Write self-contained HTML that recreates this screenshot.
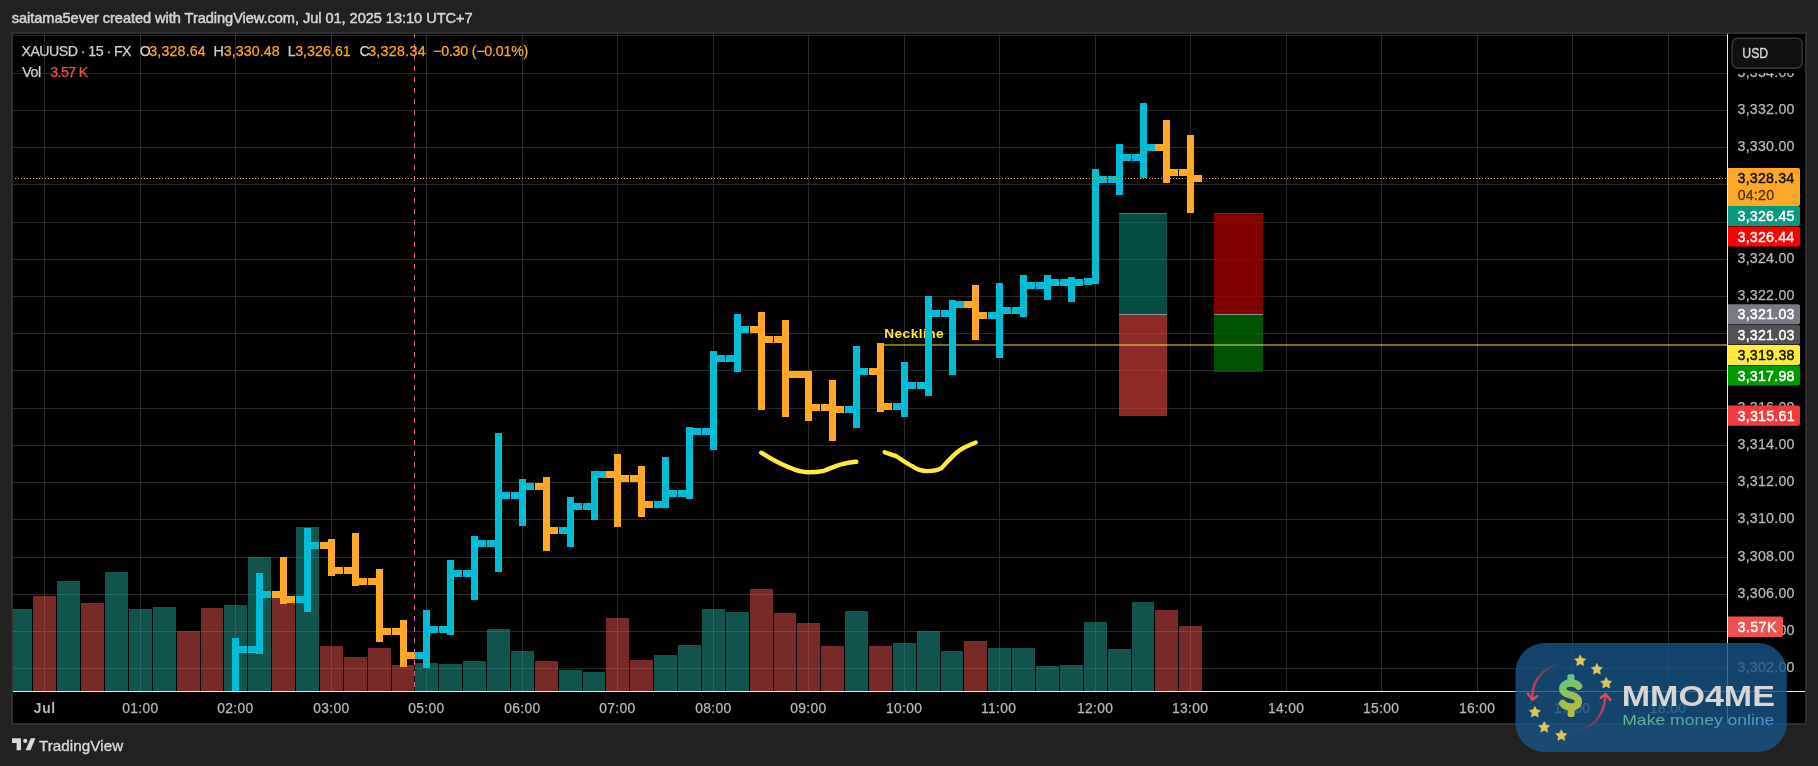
<!DOCTYPE html>
<html><head><meta charset="utf-8"><title>XAUUSD chart</title>
<style>
html,body{margin:0;padding:0;background:#212121;}
body{width:1818px;height:766px;overflow:hidden;position:relative;font-family:"Liberation Sans", "DejaVu Sans", sans-serif;}
svg{position:absolute;left:0;top:0;display:block;will-change:transform;}
svg text{font-family:"Liberation Sans", "DejaVu Sans", sans-serif;}
</style></head><body>
<svg width="1818" height="766" viewBox="0 0 1818 766">
<defs>
<clipPath id="pane"><rect x="13" y="34" width="1714" height="657"/></clipPath>
<linearGradient id="dollarU" gradientUnits="userSpaceOnUse" x1="1561" y1="678" x2="1580" y2="715"><stop offset="0" stop-color="#66d690"/><stop offset="0.5" stop-color="#a8cc48"/><stop offset="1" stop-color="#d2c82a"/></linearGradient><linearGradient id="dollar" x1="0" y1="0" x2="0.6" y2="1"><stop offset="0" stop-color="#5fd08a"/><stop offset="0.55" stop-color="#9cc94a"/><stop offset="1" stop-color="#c9c02a"/></linearGradient>
<linearGradient id="mmtxt" x1="0" y1="0" x2="1" y2="0"><stop offset="0" stop-color="#5fb888"/><stop offset="1" stop-color="#4a8fd0"/></linearGradient>
<linearGradient id="arcL" x1="0" y1="0" x2="0" y2="1"><stop offset="0" stop-color="#c8405a" stop-opacity="0"/><stop offset="0.5" stop-color="#c8405a" stop-opacity="0.8"/><stop offset="1" stop-color="#d8404e"/></linearGradient>
<linearGradient id="arcR" x1="0" y1="1" x2="0" y2="0"><stop offset="0" stop-color="#c8405a" stop-opacity="0"/><stop offset="0.5" stop-color="#c8405a" stop-opacity="0.8"/><stop offset="1" stop-color="#d8404e"/></linearGradient>
</defs>
<text x="11.79" y="23.00" font-size="14.60" letter-spacing="-0.051" fill="#d4d4d4" stroke="#d4d4d4" stroke-width="0.5">saitama5ever created with TradingView.com, Jul 01, 2025 13:10 UTC+7</text>
<rect x="11" y="32" width="1796" height="693" fill="#2f2f2f"/>
<rect x="13" y="34" width="1792" height="689" fill="#000"/>
<g fill="#292929" shape-rendering="crispEdges"><rect x="44" y="34" width="1" height="657"/><rect x="140" y="34" width="1" height="657"/><rect x="235" y="34" width="1" height="657"/><rect x="331" y="34" width="1" height="657"/><rect x="426" y="34" width="1" height="657"/><rect x="522" y="34" width="1" height="657"/><rect x="617" y="34" width="1" height="657"/><rect x="713" y="34" width="1" height="657"/><rect x="808" y="34" width="1" height="657"/><rect x="904" y="34" width="1" height="657"/><rect x="999" y="34" width="1" height="657"/><rect x="1095" y="34" width="1" height="657"/><rect x="1190" y="34" width="1" height="657"/><rect x="1286" y="34" width="1" height="657"/><rect x="1381" y="34" width="1" height="657"/><rect x="1477" y="34" width="1" height="657"/><rect x="1572" y="34" width="1" height="657"/><rect x="1668" y="34" width="1" height="657"/><rect x="13" y="35" width="1714" height="1"/><rect x="13" y="73" width="1714" height="1"/><rect x="13" y="110" width="1714" height="1"/><rect x="13" y="147" width="1714" height="1"/><rect x="13" y="184" width="1714" height="1"/><rect x="13" y="222" width="1714" height="1"/><rect x="13" y="259" width="1714" height="1"/><rect x="13" y="296" width="1714" height="1"/><rect x="13" y="333" width="1714" height="1"/><rect x="13" y="370" width="1714" height="1"/><rect x="13" y="408" width="1714" height="1"/><rect x="13" y="445" width="1714" height="1"/><rect x="13" y="482" width="1714" height="1"/><rect x="13" y="519" width="1714" height="1"/><rect x="13" y="557" width="1714" height="1"/><rect x="13" y="594" width="1714" height="1"/><rect x="13" y="631" width="1714" height="1"/><rect x="13" y="668" width="1714" height="1"/></g>
<g clip-path="url(#pane)" shape-rendering="crispEdges">
<rect x="10" y="609" width="22" height="82" fill="rgba(38,166,154,0.5)"/><rect x="33" y="596" width="23" height="95" fill="rgba(239,83,80,0.5)"/><rect x="57" y="581" width="23" height="110" fill="rgba(38,166,154,0.5)"/><rect x="81" y="603" width="23" height="88" fill="rgba(239,83,80,0.5)"/><rect x="105" y="572" width="23" height="119" fill="rgba(38,166,154,0.5)"/><rect x="129" y="609" width="23" height="82" fill="rgba(38,166,154,0.5)"/><rect x="153" y="607" width="23" height="84" fill="rgba(38,166,154,0.5)"/><rect x="177" y="631" width="23" height="60" fill="rgba(239,83,80,0.5)"/><rect x="201" y="608" width="22" height="83" fill="rgba(239,83,80,0.5)"/><rect x="224" y="605" width="23" height="86" fill="rgba(38,166,154,0.5)"/><rect x="248" y="557" width="23" height="134" fill="rgba(38,166,154,0.5)"/><rect x="272" y="598" width="23" height="93" fill="rgba(239,83,80,0.5)"/><rect x="296" y="527" width="23" height="164" fill="rgba(38,166,154,0.5)"/><rect x="320" y="646" width="23" height="45" fill="rgba(239,83,80,0.5)"/><rect x="344" y="657" width="23" height="34" fill="rgba(239,83,80,0.5)"/><rect x="368" y="648" width="23" height="43" fill="rgba(239,83,80,0.5)"/><rect x="392" y="665" width="22" height="26" fill="rgba(239,83,80,0.5)"/><rect x="415" y="663" width="23" height="28" fill="rgba(38,166,154,0.5)"/><rect x="439" y="664" width="23" height="27" fill="rgba(38,166,154,0.5)"/><rect x="463" y="661" width="23" height="30" fill="rgba(38,166,154,0.5)"/><rect x="487" y="629" width="23" height="62" fill="rgba(38,166,154,0.5)"/><rect x="511" y="651" width="23" height="40" fill="rgba(38,166,154,0.5)"/><rect x="535" y="661" width="23" height="30" fill="rgba(239,83,80,0.5)"/><rect x="559" y="670" width="23" height="21" fill="rgba(38,166,154,0.5)"/><rect x="583" y="672" width="22" height="19" fill="rgba(38,166,154,0.5)"/><rect x="606" y="618" width="23" height="73" fill="rgba(239,83,80,0.5)"/><rect x="630" y="660" width="23" height="31" fill="rgba(239,83,80,0.5)"/><rect x="654" y="655" width="23" height="36" fill="rgba(38,166,154,0.5)"/><rect x="678" y="645" width="23" height="46" fill="rgba(38,166,154,0.5)"/><rect x="702" y="609" width="23" height="82" fill="rgba(38,166,154,0.5)"/><rect x="726" y="612" width="23" height="79" fill="rgba(38,166,154,0.5)"/><rect x="750" y="589" width="23" height="102" fill="rgba(239,83,80,0.5)"/><rect x="774" y="613" width="22" height="78" fill="rgba(239,83,80,0.5)"/><rect x="797" y="623" width="23" height="68" fill="rgba(239,83,80,0.5)"/><rect x="821" y="646" width="23" height="45" fill="rgba(239,83,80,0.5)"/><rect x="845" y="611" width="23" height="80" fill="rgba(38,166,154,0.5)"/><rect x="869" y="646" width="23" height="45" fill="rgba(239,83,80,0.5)"/><rect x="893" y="643" width="23" height="48" fill="rgba(38,166,154,0.5)"/><rect x="917" y="631" width="23" height="60" fill="rgba(38,166,154,0.5)"/><rect x="941" y="651" width="22" height="40" fill="rgba(38,166,154,0.5)"/><rect x="964" y="641" width="23" height="50" fill="rgba(239,83,80,0.5)"/><rect x="988" y="648" width="23" height="43" fill="rgba(38,166,154,0.5)"/><rect x="1012" y="648" width="23" height="43" fill="rgba(38,166,154,0.5)"/><rect x="1036" y="666" width="23" height="25" fill="rgba(38,166,154,0.5)"/><rect x="1060" y="665" width="23" height="26" fill="rgba(38,166,154,0.5)"/><rect x="1084" y="622" width="23" height="69" fill="rgba(38,166,154,0.5)"/><rect x="1108" y="649" width="23" height="42" fill="rgba(38,166,154,0.5)"/><rect x="1132" y="602" width="22" height="89" fill="rgba(38,166,154,0.5)"/><rect x="1155" y="610" width="23" height="81" fill="rgba(239,83,80,0.5)"/><rect x="1179" y="626" width="23" height="65" fill="rgba(239,83,80,0.5)"/>
<rect x="1119" y="213" width="48" height="101" fill="rgba(8,126,112,0.6)"/>
<rect x="1119" y="213" width="48" height="1" fill="rgba(30,150,135,0.8)"/>
<rect x="1119" y="315" width="48" height="101" fill="rgba(200,60,55,0.7)"/>
<rect x="1119" y="314" width="48" height="1" fill="#8f8f8f"/>
<rect x="1214" y="213" width="49" height="101" fill="rgba(160,0,0,0.81)"/>
<rect x="1214" y="213" width="49" height="1" fill="#c80000"/>
<rect x="1214" y="315" width="49" height="57" fill="rgba(0,104,0,0.8)"/>
<rect x="1214" y="314" width="49" height="1" fill="#8f8f8f"/>
<rect x="881" y="344" width="846" height="2" fill="rgba(255,235,59,0.48)"/>
<text x="884.19" y="337.80" font-size="13.60" font-weight="bold" letter-spacing="0.505" fill="#ffeb3b">Neckline</text>
<rect x="232" y="638" width="7" height="62" fill="#00bcd4"/><rect x="224" y="696" width="8" height="7" fill="#00bcd4"/><rect x="239" y="646" width="8" height="7" fill="#00bcd4"/><rect x="256" y="573" width="7" height="81" fill="#00bcd4"/><rect x="248" y="646" width="8" height="7" fill="#00bcd4"/><rect x="263" y="591" width="8" height="7" fill="#00bcd4"/><rect x="280" y="557" width="7" height="47" fill="#ffa726"/><rect x="272" y="591" width="8" height="7" fill="#ffa726"/><rect x="287" y="596" width="8" height="7" fill="#ffa726"/><rect x="304" y="528" width="7" height="84" fill="#00bcd4"/><rect x="296" y="596" width="8" height="7" fill="#00bcd4"/><rect x="311" y="542" width="8" height="7" fill="#00bcd4"/><rect x="328" y="539" width="7" height="37" fill="#ffa726"/><rect x="320" y="542" width="8" height="7" fill="#ffa726"/><rect x="335" y="567" width="8" height="7" fill="#ffa726"/><rect x="352" y="533" width="7" height="53" fill="#ffa726"/><rect x="344" y="567" width="8" height="7" fill="#ffa726"/><rect x="359" y="578" width="8" height="7" fill="#ffa726"/><rect x="376" y="569" width="7" height="73" fill="#ffa726"/><rect x="368" y="578" width="8" height="7" fill="#ffa726"/><rect x="383" y="628" width="8" height="7" fill="#ffa726"/><rect x="400" y="620" width="7" height="47" fill="#ffa726"/><rect x="392" y="628" width="8" height="7" fill="#ffa726"/><rect x="407" y="652" width="8" height="7" fill="#ffa726"/><rect x="423" y="610" width="7" height="58" fill="#00bcd4"/><rect x="415" y="652" width="8" height="7" fill="#00bcd4"/><rect x="430" y="626" width="8" height="7" fill="#00bcd4"/><rect x="447" y="560" width="7" height="75" fill="#00bcd4"/><rect x="439" y="626" width="8" height="7" fill="#00bcd4"/><rect x="454" y="570" width="8" height="7" fill="#00bcd4"/><rect x="471" y="536" width="7" height="64" fill="#00bcd4"/><rect x="463" y="570" width="8" height="7" fill="#00bcd4"/><rect x="478" y="540" width="8" height="7" fill="#00bcd4"/><rect x="495" y="433" width="7" height="139" fill="#00bcd4"/><rect x="487" y="540" width="8" height="7" fill="#00bcd4"/><rect x="502" y="492" width="8" height="7" fill="#00bcd4"/><rect x="519" y="479" width="7" height="47" fill="#00bcd4"/><rect x="511" y="492" width="8" height="7" fill="#00bcd4"/><rect x="526" y="483" width="8" height="7" fill="#00bcd4"/><rect x="543" y="477" width="7" height="74" fill="#ffa726"/><rect x="535" y="483" width="8" height="7" fill="#ffa726"/><rect x="550" y="527" width="8" height="7" fill="#ffa726"/><rect x="567" y="497" width="7" height="50" fill="#00bcd4"/><rect x="559" y="527" width="8" height="7" fill="#00bcd4"/><rect x="574" y="503" width="8" height="7" fill="#00bcd4"/><rect x="591" y="471" width="7" height="49" fill="#00bcd4"/><rect x="583" y="503" width="8" height="7" fill="#00bcd4"/><rect x="598" y="471" width="8" height="7" fill="#00bcd4"/><rect x="614" y="454" width="7" height="73" fill="#ffa726"/><rect x="606" y="471" width="8" height="7" fill="#ffa726"/><rect x="621" y="475" width="8" height="7" fill="#ffa726"/><rect x="638" y="466" width="7" height="51" fill="#ffa726"/><rect x="630" y="475" width="8" height="7" fill="#ffa726"/><rect x="645" y="501" width="8" height="7" fill="#ffa726"/><rect x="662" y="457" width="7" height="51" fill="#00bcd4"/><rect x="654" y="501" width="8" height="7" fill="#00bcd4"/><rect x="669" y="490" width="8" height="7" fill="#00bcd4"/><rect x="686" y="427" width="7" height="72" fill="#00bcd4"/><rect x="678" y="490" width="8" height="7" fill="#00bcd4"/><rect x="693" y="428" width="8" height="7" fill="#00bcd4"/><rect x="710" y="351" width="7" height="99" fill="#00bcd4"/><rect x="702" y="428" width="8" height="7" fill="#00bcd4"/><rect x="717" y="355" width="8" height="7" fill="#00bcd4"/><rect x="734" y="314" width="7" height="58" fill="#00bcd4"/><rect x="726" y="355" width="8" height="7" fill="#00bcd4"/><rect x="741" y="326" width="8" height="7" fill="#00bcd4"/><rect x="758" y="312" width="7" height="98" fill="#ffa726"/><rect x="750" y="326" width="8" height="7" fill="#ffa726"/><rect x="765" y="336" width="8" height="7" fill="#ffa726"/><rect x="782" y="320" width="7" height="97" fill="#ffa726"/><rect x="774" y="336" width="8" height="7" fill="#ffa726"/><rect x="789" y="371" width="8" height="7" fill="#ffa726"/><rect x="805" y="371" width="7" height="50" fill="#ffa726"/><rect x="797" y="371" width="8" height="7" fill="#ffa726"/><rect x="812" y="404" width="8" height="7" fill="#ffa726"/><rect x="829" y="380" width="7" height="61" fill="#ffa726"/><rect x="821" y="404" width="8" height="7" fill="#ffa726"/><rect x="836" y="406" width="8" height="7" fill="#ffa726"/><rect x="853" y="346" width="7" height="82" fill="#00bcd4"/><rect x="845" y="406" width="8" height="7" fill="#00bcd4"/><rect x="860" y="368" width="8" height="7" fill="#00bcd4"/><rect x="877" y="343" width="7" height="69" fill="#ffa726"/><rect x="869" y="368" width="8" height="7" fill="#ffa726"/><rect x="884" y="403" width="8" height="7" fill="#ffa726"/><rect x="901" y="362" width="7" height="55" fill="#00bcd4"/><rect x="893" y="403" width="8" height="7" fill="#00bcd4"/><rect x="908" y="382" width="8" height="7" fill="#00bcd4"/><rect x="925" y="296" width="7" height="100" fill="#00bcd4"/><rect x="917" y="382" width="8" height="7" fill="#00bcd4"/><rect x="932" y="310" width="8" height="7" fill="#00bcd4"/><rect x="949" y="300" width="7" height="75" fill="#00bcd4"/><rect x="941" y="310" width="8" height="7" fill="#00bcd4"/><rect x="956" y="301" width="8" height="7" fill="#00bcd4"/><rect x="972" y="285" width="7" height="55" fill="#ffa726"/><rect x="964" y="301" width="8" height="7" fill="#ffa726"/><rect x="979" y="312" width="8" height="7" fill="#ffa726"/><rect x="996" y="283" width="7" height="75" fill="#00bcd4"/><rect x="988" y="312" width="8" height="7" fill="#00bcd4"/><rect x="1003" y="307" width="8" height="7" fill="#00bcd4"/><rect x="1020" y="275" width="7" height="42" fill="#00bcd4"/><rect x="1012" y="307" width="8" height="7" fill="#00bcd4"/><rect x="1027" y="282" width="8" height="7" fill="#00bcd4"/><rect x="1044" y="275" width="7" height="25" fill="#00bcd4"/><rect x="1036" y="282" width="8" height="7" fill="#00bcd4"/><rect x="1051" y="279" width="8" height="7" fill="#00bcd4"/><rect x="1068" y="277" width="7" height="25" fill="#00bcd4"/><rect x="1060" y="279" width="8" height="7" fill="#00bcd4"/><rect x="1075" y="279" width="8" height="7" fill="#00bcd4"/><rect x="1092" y="169" width="7" height="115" fill="#00bcd4"/><rect x="1084" y="278" width="8" height="7" fill="#00bcd4"/><rect x="1099" y="176" width="8" height="7" fill="#00bcd4"/><rect x="1116" y="144" width="7" height="51" fill="#00bcd4"/><rect x="1108" y="176" width="8" height="7" fill="#00bcd4"/><rect x="1123" y="154" width="8" height="7" fill="#00bcd4"/><rect x="1140" y="103" width="7" height="75" fill="#00bcd4"/><rect x="1132" y="154" width="8" height="7" fill="#00bcd4"/><rect x="1147" y="144" width="8" height="7" fill="#00bcd4"/><rect x="1163" y="120" width="7" height="63" fill="#ffa726"/><rect x="1155" y="144" width="8" height="7" fill="#ffa726"/><rect x="1170" y="169" width="8" height="7" fill="#ffa726"/><rect x="1187" y="135" width="7" height="78" fill="#ffa726"/><rect x="1179" y="169" width="8" height="7" fill="#ffa726"/><rect x="1194" y="175" width="8" height="7" fill="#ffa726"/>
<line x1="414.5" y1="34" x2="414.5" y2="691" stroke="#e0609a" stroke-width="1" stroke-dasharray="5 6" stroke-dashoffset="1" shape-rendering="crispEdges"/>
</g>
<line x1="13" y1="178.5" x2="1727" y2="178.5" stroke="#ffa726" stroke-width="1" stroke-dasharray="1 2" stroke-dashoffset="-2" shape-rendering="crispEdges"/>
<path d="M761.2,452.7 C768,457 780,464 789.6,467.6 C796,470.6 802,472.3 808.1,472.3 C815,472.3 820,471.6 823.9,470.8 C830,468.6 836,465.6 842.4,464.1 C848,462.6 852,462.2 856.3,461.7" fill="none" stroke="#ffeb3b" stroke-width="4.4" stroke-linecap="round" stroke-linejoin="round"/>
<path d="M884.7,452.2 C888,453.6 892,454.6 895.2,455.7 C901,459 906,463 912.4,466.3 C918,470.3 922,471.1 926.9,471.1 C933,471.1 938,470.2 941.4,468.2 C948,461 953,455 958.6,451.1 C964,447 970,445 975.7,442.5" fill="none" stroke="#ffeb3b" stroke-width="4.4" stroke-linecap="round" stroke-linejoin="round"/>
<text x="21.48" y="56.00" font-size="14.20" letter-spacing="-0.543" fill="#cfcfcf" stroke="#cfcfcf" stroke-width="0.25">XAUUSD · 15 · FX</text>
<text x="139.83" y="56.00" font-size="14.20" letter-spacing="0.000" fill="#cfcfcf" stroke="#cfcfcf" stroke-width="0.25">O</text>
<text x="149.26" y="56.00" font-size="14.20" letter-spacing="0.183" fill="#ffa726" stroke="#ffa726" stroke-width="0.25">3,328.64</text>
<text x="213.54" y="56.00" font-size="14.20" letter-spacing="0.000" fill="#cfcfcf" stroke="#cfcfcf" stroke-width="0.25">H</text>
<text x="223.86" y="56.00" font-size="14.20" letter-spacing="0.069" fill="#ffa726" stroke="#ffa726" stroke-width="0.25">3,330.48</text>
<text x="287.74" y="56.00" font-size="14.20" letter-spacing="0.000" fill="#cfcfcf" stroke="#cfcfcf" stroke-width="0.25">L</text>
<text x="295.16" y="56.00" font-size="14.20" letter-spacing="0.051" fill="#ffa726" stroke="#ffa726" stroke-width="0.25">3,326.61</text>
<text x="359.38" y="56.00" font-size="14.20" letter-spacing="0.000" fill="#cfcfcf" stroke="#cfcfcf" stroke-width="0.25">C</text>
<text x="368.16" y="56.00" font-size="14.20" letter-spacing="0.312" fill="#ffa726" stroke="#ffa726" stroke-width="0.25">3,328.34</text>
<text x="433.10" y="56.00" font-size="14.20" letter-spacing="-0.201" fill="#ffa726" stroke="#ffa726" stroke-width="0.25">−0.30 (−0.01%)</text>
<text x="22.34" y="76.60" font-size="14.20" letter-spacing="-0.506" fill="#cfcfcf" stroke="#cfcfcf" stroke-width="0.25">Vol</text>
<text x="50.26" y="76.60" font-size="14.20" letter-spacing="-0.591" fill="#f0504c" stroke="#f0504c" stroke-width="0.25">3.57 K</text>
<rect x="1727" y="34" width="1" height="689" fill="#e8e8e8"/>
<rect x="13" y="691" width="1792" height="1" fill="#e8e8e8"/>
<text x="1737.56" y="77.00" font-size="14.20" letter-spacing="0.232" fill="#b8b8b8" stroke="#b8b8b8" stroke-width="0.25">3,334.00</text><text x="1737.56" y="114.00" font-size="14.20" letter-spacing="0.232" fill="#b8b8b8" stroke="#b8b8b8" stroke-width="0.25">3,332.00</text><text x="1737.56" y="151.00" font-size="14.20" letter-spacing="0.232" fill="#b8b8b8" stroke="#b8b8b8" stroke-width="0.25">3,330.00</text><text x="1737.56" y="263.00" font-size="14.20" letter-spacing="0.232" fill="#b8b8b8" stroke="#b8b8b8" stroke-width="0.25">3,324.00</text><text x="1737.56" y="300.00" font-size="14.20" letter-spacing="0.232" fill="#b8b8b8" stroke="#b8b8b8" stroke-width="0.25">3,322.00</text><text x="1737.56" y="412.00" font-size="14.20" letter-spacing="0.232" fill="#b8b8b8" stroke="#b8b8b8" stroke-width="0.25">3,316.00</text><text x="1737.56" y="449.00" font-size="14.20" letter-spacing="0.232" fill="#b8b8b8" stroke="#b8b8b8" stroke-width="0.25">3,314.00</text><text x="1737.56" y="486.00" font-size="14.20" letter-spacing="0.232" fill="#b8b8b8" stroke="#b8b8b8" stroke-width="0.25">3,312.00</text><text x="1737.56" y="523.00" font-size="14.20" letter-spacing="0.232" fill="#b8b8b8" stroke="#b8b8b8" stroke-width="0.25">3,310.00</text><text x="1737.56" y="561.00" font-size="14.20" letter-spacing="0.232" fill="#b8b8b8" stroke="#b8b8b8" stroke-width="0.25">3,308.00</text><text x="1737.56" y="598.00" font-size="14.20" letter-spacing="0.232" fill="#b8b8b8" stroke="#b8b8b8" stroke-width="0.25">3,306.00</text><text x="1737.56" y="635.00" font-size="14.20" letter-spacing="0.232" fill="#b8b8b8" stroke="#b8b8b8" stroke-width="0.25">3,304.00</text><text x="1737.56" y="672.00" font-size="14.20" letter-spacing="0.232" fill="#b8b8b8" stroke="#b8b8b8" stroke-width="0.25">3,302.00</text>
<rect x="1728" y="34" width="77" height="39" fill="#000"/>
<rect x="1732.2" y="38.2" width="70" height="30" rx="5.5" fill="#101010" stroke="#363636" stroke-width="1.5"/>
<text transform="translate(1742.36,58.00) scale(0.8615,1)" x="0" y="0" font-size="14.20" fill="#d8d8d8" stroke="#d8d8d8" stroke-width="0.35">USD</text>
<path d="M1728,168.0 H1798.0 a2,2 0 0 1 2,2 V204.0 a2,2 0 0 1 -2,2 H1728 Z" fill="#ffa726"/>
<text x="1737.56" y="183.20" font-size="14.20" letter-spacing="0.212" fill="#131313" stroke="#131313" stroke-width="0.45">3,328.34</text>
<text x="1737.65" y="199.60" font-size="14.20" letter-spacing="0.219" fill="#4d3711" stroke="#4d3711" stroke-width="0.3">04:20</text>
<path d="M1728,206.0 H1798.0 a2,2 0 0 1 2,2 V224.0 a2,2 0 0 1 -2,2 H1728 Z" fill="#089981"/>
<text x="1737.56" y="221.10" font-size="14.20" letter-spacing="0.238" fill="#ffffff" stroke="#ffffff" stroke-width="0.45">3,326.45</text>
<path d="M1728,226.4 H1798.0 a2,2 0 0 1 2,2 V244.5 a2,2 0 0 1 -2,2 H1728 Z" fill="#ff0000"/>
<text x="1737.56" y="241.55" font-size="14.20" letter-spacing="0.212" fill="#ffffff" stroke="#ffffff" stroke-width="0.45">3,326.44</text>
<path d="M1728,304.3 H1798.0 a2,2 0 0 1 2,2 V322.3 a2,2 0 0 1 -2,2 H1728 Z" fill="#787b86"/>
<text x="1737.56" y="319.40" font-size="14.20" letter-spacing="0.241" fill="#ffffff" stroke="#ffffff" stroke-width="0.45">3,321.03</text>
<path d="M1728,324.8 H1798.0 a2,2 0 0 1 2,2 V342.6 a2,2 0 0 1 -2,2 H1728 Z" fill="#525252"/>
<text x="1737.56" y="339.80" font-size="14.20" letter-spacing="0.241" fill="#ffffff" stroke="#ffffff" stroke-width="0.45">3,321.03</text>
<path d="M1728,344.9 H1798.0 a2,2 0 0 1 2,2 V363.0 a2,2 0 0 1 -2,2 H1728 Z" fill="#ffeb3b"/>
<text x="1737.56" y="360.05" font-size="14.20" letter-spacing="0.240" fill="#131313" stroke="#131313" stroke-width="0.45">3,319.38</text>
<path d="M1728,365.4 H1798.0 a2,2 0 0 1 2,2 V383.5 a2,2 0 0 1 -2,2 H1728 Z" fill="#009900"/>
<text x="1737.56" y="380.55" font-size="14.20" letter-spacing="0.240" fill="#ffffff" stroke="#ffffff" stroke-width="0.45">3,317.98</text>
<path d="M1728,405.6 H1798.0 a2,2 0 0 1 2,2 V423.7 a2,2 0 0 1 -2,2 H1728 Z" fill="#f23c3c"/>
<text x="1737.56" y="420.75" font-size="14.20" letter-spacing="0.251" fill="#ffffff" stroke="#ffffff" stroke-width="0.45">3,315.61</text>
<path d="M1728,616.4 H1781.0 a2,2 0 0 1 2,2 V635.1 a2,2 0 0 1 -2,2 H1728 Z" fill="#f05050"/>
<text x="1737.56" y="631.85" font-size="14.20" letter-spacing="0.448" fill="#ffffff" stroke="#ffffff" stroke-width="0.45">3.57K</text>
<text x="33.79" y="713.00" font-size="13.80" font-weight="bold" letter-spacing="0.724" fill="#b8b8b8">Jul</text><text x="122.23" y="713.00" font-size="13.80" letter-spacing="0.350" fill="#b8b8b8" stroke="#b8b8b8" stroke-width="0.25">01:00</text><text x="217.23" y="713.00" font-size="13.80" letter-spacing="0.350" fill="#b8b8b8" stroke="#b8b8b8" stroke-width="0.25">02:00</text><text x="313.23" y="713.00" font-size="13.80" letter-spacing="0.350" fill="#b8b8b8" stroke="#b8b8b8" stroke-width="0.25">03:00</text><text x="408.23" y="713.00" font-size="13.80" letter-spacing="0.350" fill="#b8b8b8" stroke="#b8b8b8" stroke-width="0.25">05:00</text><text x="504.23" y="713.00" font-size="13.80" letter-spacing="0.350" fill="#b8b8b8" stroke="#b8b8b8" stroke-width="0.25">06:00</text><text x="599.23" y="713.00" font-size="13.80" letter-spacing="0.350" fill="#b8b8b8" stroke="#b8b8b8" stroke-width="0.25">07:00</text><text x="695.23" y="713.00" font-size="13.80" letter-spacing="0.350" fill="#b8b8b8" stroke="#b8b8b8" stroke-width="0.25">08:00</text><text x="790.23" y="713.00" font-size="13.80" letter-spacing="0.350" fill="#b8b8b8" stroke="#b8b8b8" stroke-width="0.25">09:00</text><text x="885.98" y="713.00" font-size="13.80" letter-spacing="0.350" fill="#b8b8b8" stroke="#b8b8b8" stroke-width="0.25">10:00</text><text x="980.98" y="713.00" font-size="13.80" letter-spacing="0.350" fill="#b8b8b8" stroke="#b8b8b8" stroke-width="0.25">11:00</text><text x="1076.98" y="713.00" font-size="13.80" letter-spacing="0.350" fill="#b8b8b8" stroke="#b8b8b8" stroke-width="0.25">12:00</text><text x="1171.98" y="713.00" font-size="13.80" letter-spacing="0.350" fill="#b8b8b8" stroke="#b8b8b8" stroke-width="0.25">13:00</text><text x="1267.98" y="713.00" font-size="13.80" letter-spacing="0.350" fill="#b8b8b8" stroke="#b8b8b8" stroke-width="0.25">14:00</text><text x="1362.98" y="713.00" font-size="13.80" letter-spacing="0.350" fill="#b8b8b8" stroke="#b8b8b8" stroke-width="0.25">15:00</text><text x="1458.98" y="713.00" font-size="13.80" letter-spacing="0.350" fill="#b8b8b8" stroke="#b8b8b8" stroke-width="0.25">16:00</text><text x="1553.98" y="713.00" font-size="13.80" letter-spacing="0.350" fill="#b8b8b8" stroke="#b8b8b8" stroke-width="0.25">17:00</text><text x="1649.98" y="713.00" font-size="13.80" letter-spacing="0.350" fill="#b8b8b8" stroke="#b8b8b8" stroke-width="0.25">18:00</text>
<g fill="#d9d9d9">
<path d="M12,738.2 H21 V750.2 H16.6 V743.1 H12 Z"/>
<circle cx="25.2" cy="740.9" r="2.1"/>
<path d="M30.8,738.2 H35.5 L30.5,750.2 H25.5 Z"/>
<text x="38.96" y="750.80" font-size="15.20" letter-spacing="0.062" fill="#d9d9d9" stroke="#d9d9d9" stroke-width="0.35">TradingView</text>
</g>
<g>
<rect x="1515.5" y="643" width="271.3" height="109" rx="29" fill="rgba(24,83,132,0.82)"/>
<path d="M1567.1,661.8 C1552,663.5 1538,673 1534,686 C1532.8,690 1532.2,694 1532.2,698.5" fill="none" stroke="url(#arcL)" stroke-width="2.6" stroke-linecap="round"/>
<path d="M1527.8,693.6 L1532.2,699.6 L1537.2,696.2" fill="none" stroke="#cf4a62" stroke-width="2.6" stroke-linecap="round" stroke-linejoin="round"/>
<path d="M1570.9,731.9 C1586,731 1598,722 1602.5,710 C1604.3,705 1605.3,700 1605.6,695" fill="none" stroke="url(#arcR)" stroke-width="2.6" stroke-linecap="round"/>
<path d="M1600.8,697.8 L1605.6,694 L1610.3,699.9" fill="none" stroke="#cf4a62" stroke-width="2.6" stroke-linecap="round" stroke-linejoin="round"/>
<polygon points="1580.20,654.90 1581.93,658.41 1585.81,658.98 1583.01,661.71 1583.67,665.57 1580.20,663.75 1576.73,665.57 1577.39,661.71 1574.59,658.98 1578.47,658.41" fill="#dec65e" stroke="#dec65e" stroke-width="0.6" stroke-linejoin="round"/>
<polygon points="1596.90,663.50 1598.63,667.01 1602.51,667.58 1599.71,670.31 1600.37,674.17 1596.90,672.35 1593.43,674.17 1594.09,670.31 1591.29,667.58 1595.17,667.01" fill="#dec65e" stroke="#dec65e" stroke-width="0.6" stroke-linejoin="round"/>
<polygon points="1606.20,677.30 1607.93,680.81 1611.81,681.38 1609.01,684.11 1609.67,687.97 1606.20,686.15 1602.73,687.97 1603.39,684.11 1600.59,681.38 1604.47,680.81" fill="#dec65e" stroke="#dec65e" stroke-width="0.6" stroke-linejoin="round"/>
<polygon points="1534.90,706.30 1536.63,709.81 1540.51,710.38 1537.71,713.11 1538.37,716.97 1534.90,715.15 1531.43,716.97 1532.09,713.11 1529.29,710.38 1533.17,709.81" fill="#dec65e" stroke="#dec65e" stroke-width="0.6" stroke-linejoin="round"/>
<polygon points="1544.20,721.50 1545.93,725.01 1549.81,725.58 1547.01,728.31 1547.67,732.17 1544.20,730.35 1540.73,732.17 1541.39,728.31 1538.59,725.58 1542.47,725.01" fill="#dec65e" stroke="#dec65e" stroke-width="0.6" stroke-linejoin="round"/>
<polygon points="1561.30,729.70 1563.03,733.21 1566.91,733.78 1564.11,736.51 1564.77,740.37 1561.30,738.55 1557.83,740.37 1558.49,736.51 1555.69,733.78 1559.57,733.21" fill="#dec65e" stroke="#dec65e" stroke-width="0.6" stroke-linejoin="round"/>
<g opacity="0.9">
<rect x="1567.4" y="674.2" width="7" height="10" rx="2" fill="url(#dollarU)"/>
<rect x="1567.6" y="706" width="7" height="11" rx="2" fill="url(#dollarU)"/>
<path d="M1578.6,686.2 C1577,683.8 1573.8,683 1570.5,683 C1565.8,683 1562.7,685.5 1562.7,689 C1562.7,692.8 1566.5,694 1570.6,695 C1575,696.1 1578.4,697.6 1578.4,701.2 C1578.4,704.8 1575.2,707 1570.8,707 C1567,707 1564.3,705.8 1562.6,703.4" fill="none" stroke="url(#dollarU)" stroke-width="7.4" stroke-linecap="round" stroke-linejoin="round"/>
</g>
<text transform="translate(1621.72,705.60) scale(1.1207,1)" x="0" y="0" font-size="30.40" font-weight="bold" fill="#d6d6d6">MMO4ME</text>
<text transform="translate(1622.26,725.00) scale(1.2362,1)" x="0" y="0" font-size="14.20" fill="url(#mmtxt)">Make money online</text>
</g>
</svg>
</body></html>
